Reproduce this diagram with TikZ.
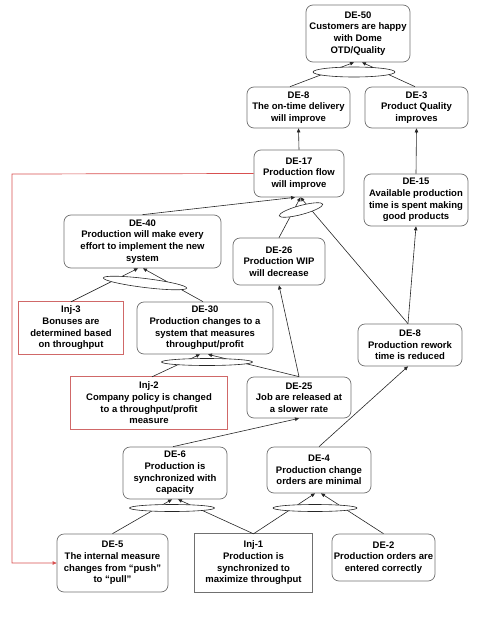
\documentclass[tikz,border=0pt]{standalone}
\usepackage{fontspec}
\setmainfont{Liberation Sans}
\usetikzlibrary{shapes.geometric,arrows.meta}
\definecolor{boxgray}{HTML}{707070}
\definecolor{injred}{HTML}{D06868}
\definecolor{linkred}{HTML}{D85050}
\begin{document}
\begin{tikzpicture}[x=1pt,y=-1pt,
  txt/.style={font=\bfseries\fontsize{9.5}{11.7}\selectfont, align=center, inner sep=0pt},
  de/.style={txt, draw=boxgray, line width=0.7pt, rounded corners=7pt},
  inj/.style={txt},
  injborder/.style={draw=injred, line width=1pt},
  injgborder/.style={draw=boxgray, line width=0.8pt},
  andj/.style={ellipse, draw=black!85, fill=white, line width=0.6pt, inner sep=0pt},
  arr/.style={draw=black!85, line width=0.6pt, -{Triangle[length=4pt,width=3.5pt]}},
  redarr/.style={draw=linkred, line width=0.7pt, -{Triangle[length=4pt,width=3.5pt]}}
]
\useasboundingbox (0,0) rectangle (480,640);

% boxes
\node[de, minimum width=104pt, minimum height=57pt] (de50) at (358,33.5) {DE-50\\Customers are happy\\with Dome\\OTD/Quality};
\node[de, minimum width=103pt, minimum height=41pt] (de8) at (298.5,107.5) {DE-8\\The on-time delivery\\will improve};
\node[de, minimum width=103pt, minimum height=41pt] (de3) at (416.5,107.5) {DE-3\\Product Quality\\improves};
\node[de, minimum width=90pt, minimum height=47pt] (de17) at (299,173.5) {DE-17\\Production flow\\will improve};
\node[de, minimum width=104pt, minimum height=52pt] (de15) at (416,200) {DE-15\\Available production\\time is spent making\\good products};
\node[de, minimum width=157pt, minimum height=53pt] (de40) at (142.5,241.5) {DE-40\\Production will make every\\effort to implement the new\\system};
\node[de, minimum width=92pt, minimum height=47pt] (de26) at (279,261.5) {DE-26\\Production WIP\\will decrease};
\node[inj, minimum width=104pt, minimum height=52pt] (inj3) at (71,328) {Inj-3\\Bonuses are\\determined based\\on throughput};
\node[de, minimum width=136pt, minimum height=52pt] (de30) at (205,328) {DE-30\\Production changes to a\\system that measures\\throughput/profit};
\node[de, minimum width=104pt, minimum height=42pt] (de8r) at (410,345) {DE-8\\Production rework\\time is reduced};
\node[inj, minimum width=156pt, minimum height=52pt] (inj2) at (149,403) {Inj-2\\Company policy is changed\\to a throughput/profit\\measure};
\node[de, minimum width=104pt, minimum height=41pt] (de25) at (299,397.5) {DE-25\\Job are released at\\a slower rate};
\node[de, minimum width=104pt, minimum height=52pt] (de6) at (175,473) {DE-6\\Production is\\synchronized with\\capacity};
\node[de, minimum width=104pt, minimum height=46pt] (de4) at (319,470) {DE-4\\Production change\\orders are minimal};
\node[de, minimum width=111pt, minimum height=58pt] (de5) at (112.5,563) {DE-5\\The internal measure\\changes from “push”\\to “pull”};
\node[inj, minimum width=117pt, minimum height=58pt] (inj1) at (253.5,563) {Inj-1\\Production is\\synchronized to\\maximize throughput};
\node[de, minimum width=103pt, minimum height=47pt] (de2) at (383.5,557.5) {DE-2\\Production orders are\\entered correctly};

% injection borders
\begin{scope}[color=injred]
\draw[line width=1pt] (inj3.north west) rectangle (inj3.south east);
\draw[line width=1pt] (inj2.north west) rectangle (inj2.south east);
\end{scope}
\begin{scope}[color=boxgray]
\draw[line width=0.8pt] (inj1.north west) rectangle (inj1.south east);
\end{scope}

% connectors
\draw[arr] ([xshift=-8.5pt]de8.north) -- ([xshift=-4pt]de50.south);
\draw[arr] ([xshift=-1.5pt]de3.north) -- ([xshift=4pt]de50.south);
\draw[arr] (de17.north) -- (de8.south);
\draw[arr] (de15.north) -- (de3.south);
\draw[arr] (de40.north) -- ([xshift=-4pt]de17.south);
\draw[arr] (de26.north) -- ([xshift=1.5pt]de17.south);
\draw[arr] ([xshift=-2pt]de8r.north) -- ([xshift=1.5pt]de17.south);
\draw[arr] ([xshift=-2pt]de8r.north) -- (de15.south);
\draw[arr] (inj3.north) -- ([xshift=-4.5pt]de40.south);
\draw[arr] ([xshift=-2pt]de30.north) -- ([xshift=0.5pt]de40.south);
\draw[arr] ([xshift=3pt]inj2.north) -- ([xshift=-5pt]de30.south);
\draw[arr] (de25.north) -- ([xshift=3pt]de30.south);
\draw[arr] (de25.north) -- (de26.south);
\draw[arr] ([xshift=-2pt]de6.north) -- (de25.south);
\draw[arr] (de4.north) -- ([xshift=-2pt]de8r.south);
\draw[arr] (de5.north) -- ([xshift=-3pt]de6.south);
\draw[arr] (inj1.north) -- ([xshift=3pt]de6.south);
\draw[arr] (inj1.north) -- ([xshift=-4pt]de4.south);
\draw[arr] (de2.north) -- ([xshift=2pt]de4.south);
\coordinate (rtop) at (12,174);
\coordinate (rbot) at (12,563);
\draw[redarr] (de17.west) -- (rtop) -- (rbot) -- (de5.west);

% AND junctions
\node[andj, minimum width=82pt, minimum height=10pt] (j50) at (354,72) {};
\node[andj, minimum width=45pt, minimum height=9pt, rotate=15] (j17) at (301,210) {};
\node[andj, minimum width=84pt, minimum height=9pt, rotate=-7] (j40) at (145,283) {};
\node[andj, minimum width=91pt, minimum height=7pt] (j30) at (207,362) {};
\node[andj, minimum width=85pt, minimum height=7pt] (j6) at (172,508) {};
\node[andj, minimum width=84pt, minimum height=7pt] (j4) at (315,508) {};
\end{tikzpicture}
\end{document}
